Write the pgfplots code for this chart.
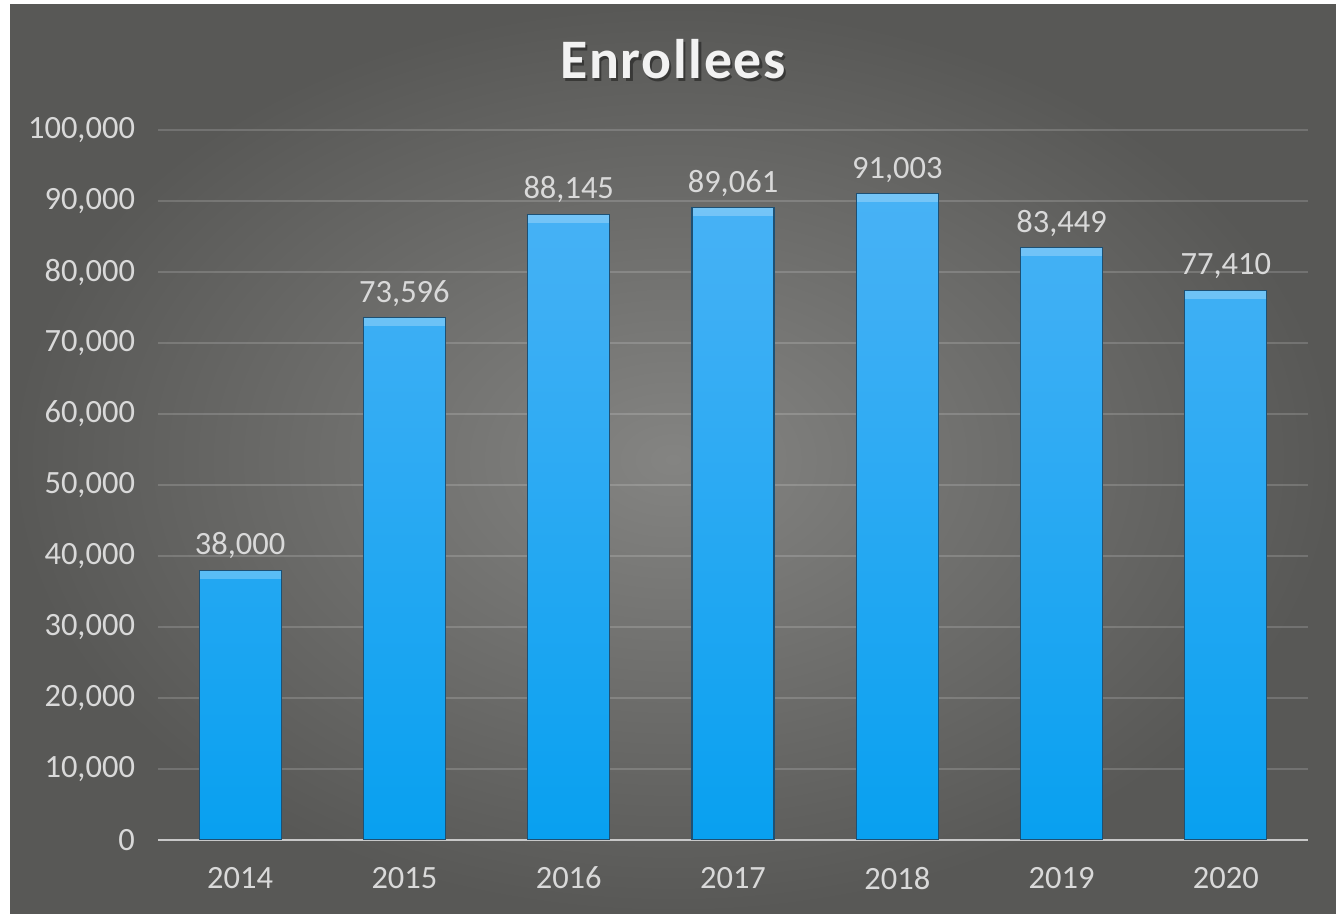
\documentclass[border=0pt]{standalone}
\usepackage{pgfplots}
\pgfplotsset{compat=1.18}
\usepackage{fontspec}
\setmainfont{Carlito}
\definecolor{txt}{RGB}{217,217,217}
\definecolor{bgin}{RGB}{132,132,130}
\definecolor{bgout}{RGB}{88,88,86}
\definecolor{bartop}{RGB}{72,178,245}
\definecolor{barbot}{RGB}{8,160,240}
\definecolor{baredge}{RGB}{30,80,115}
\pgfplotstableread{
x y
0 38000
1 73596
2 88145
3 89061
4 91003
5 83449
6 77410
}\enrol
\begin{document}
\begin{tikzpicture}
\useasboundingbox (0bp,0bp) rectangle (668bp,457bp);
\fill[white] (0bp,0bp) rectangle (668bp,457bp);
\shade[inner color=bgin, outer color=bgout] (5bp,0bp) rectangle (668bp,454.5bp);
\node[anchor=base, font=\bfseries\fontsize{28}{32}\selectfont\addfontfeature{LetterSpace=3}, text=black, opacity=0.4] at (337.7bp,416.3bp) {Enrollees};
\node[anchor=base, font=\bfseries\fontsize{28}{32}\selectfont\addfontfeature{LetterSpace=3}, text={rgb,255:red,242;green,242;blue,242}] at (336.5bp,417.5bp) {Enrollees};
\begin{axis}[
  at={(120.07bp,37bp)}, anchor=origin,
  scale only axis, width=575bp, height=355bp,
  xmin=-0.5, xmax=6.5, ymin=0, ymax=100000,
  xtick=data, xticklabels={2014,2015,2016,2017,2018,2019,2020},
  ytick={0,10000,...,100000},
  scaled y ticks=false,
  /pgf/number format/.cd, fixed, precision=0, 1000 sep={,}, assume math mode=true, /pgfplots/.cd,
  major tick length=0pt,
  axis x line*=bottom, axis y line*=left,
  x axis line style={draw={rgb,255:red,200;green,200;blue,200}, line width=1.2bp},
  y axis line style={draw=none},
  ymajorgrids, grid style={draw=white, opacity=0.16, line width=1bp},
  tick label style={font=\fontsize{16.3}{19}\selectfont, text=txt},
  xticklabel style={yshift=-10bp},
  yticklabel style={xshift=-8bp},
  every node near coord/.append style={font=\fontsize{16.3}{19}\selectfont, text=txt, yshift=2bp},
]
\addplot[ybar, bar width=41bp, bar shift=0pt, nodes near coords, draw=baredge, line width=0.6bp, top color=bartop, bottom color=barbot] table[x=x,y=y] {\enrol};
\addplot[only marks, mark=-, mark size=20.2bp, mark options={line width=4bp, draw=white, draw opacity=0.25, yshift=-2.3bp}] table[x=x,y=y] {\enrol};
\end{axis}
\end{tikzpicture}
\end{document}
